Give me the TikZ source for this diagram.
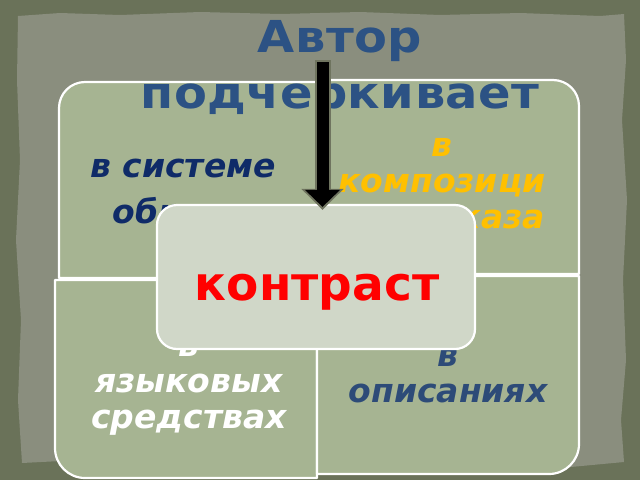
\documentclass[tikz,border=0pt]{standalone}
\usepackage{fontspec}
\setmainfont{DejaVu Sans}
\newfontfamily\titlefont[FakeStretch=1.09,LetterSpace=1]{DejaVu Sans}
\usetikzlibrary{arrows.meta}
\definecolor{bgdark}{HTML}{6A7259}
\definecolor{paper}{HTML}{8A8E7E}
\definecolor{quadfill}{HTML}{A6B492}
\definecolor{ctrfill}{HTML}{D0D7C8}
\definecolor{navy}{HTML}{0F2B68}
\definecolor{gold}{HTML}{FFC000}
\definecolor{slate}{HTML}{2D4B78}
\definecolor{titleblue}{HTML}{2C5284}
\definecolor{arrowgrey}{HTML}{6F745F}
\begin{document}
\begin{tikzpicture}[x=1pt,y=-1pt,
  quadbox/.style={fill=quadfill,draw=white,line width=2.2pt,line join=round},
  quadtext/.style={font=\fontsize{33}{36}\selectfont\bfseries\itshape,align=center,anchor=base,inner sep=0pt},
  ctrbox/.style={fill=ctrfill,draw=white,line width=2.2pt,rounded corners=20pt,minimum width=318pt,minimum height=144pt,inner sep=0pt},
  titletext/.style={font=\titlefont\bfseries\fontsize{44}{56}\selectfont,text=titleblue,align=center,anchor=base,inner sep=0pt},
  arrowhalo/.style={draw=arrowgrey,line width=16pt,-{Triangle[length=21pt,width=41pt]}},
  arrowcore/.style={draw=black,line width=12pt,-{Triangle[length=17pt,width=34pt]}}
]
\useasboundingbox (0,0) rectangle (640,480);
\fill[bgdark] (0,0) rectangle (640,480);
\fill[paper] (18,16) -- (60,13) -- (120,15) -- (200,12) -- (280,14) -- (360,12) -- (440,15) -- (520,13) -- (600,16) -- (624,14)
  -- (626,60) -- (622,120) -- (627,200) -- (623,280) -- (626,360) -- (621,420) -- (624,462)
  -- (560,468) -- (480,470) -- (400,466) -- (320,469) -- (240,463) -- (160,466) -- (80,460) -- (22,463)
  -- (18,400) -- (21,320) -- (16,240) -- (20,160) -- (17,80) -- cycle;
% quadrants
\draw[quadbox] (320,278) -- (59,278) -- (59,108) .. controls (59,93.6) and (70.6,82) .. (85,82) -- (320,82) -- cycle;
\draw[quadbox] (320,80) -- (553,80) .. controls (567.4,80) and (579,91.6) .. (579,106) -- (579,274) -- (320,274) -- cycle;
\draw[quadbox] (317,280) -- (55,280) -- (55,448) .. controls (55,464.6) and (68.4,478) .. (85,478) -- (317,478) -- cycle;
\draw[quadbox] (317,276) -- (579,276) -- (579,444) .. controls (579,460.6) and (565.6,474) .. (549,474) -- (317,474) -- cycle;
% quadrant texts (anchor base = last line)
\node[quadtext,text=navy] (tl) at (183,223) {в системе\\[10pt]\hspace*{13pt}образов};
\node[quadtext,text=gold] (tr) at (442,228) {в\\композици\\и рассказа};
\node[quadtext,text=white] (bl) at (189,428) {в\\языковых\\средствах};
\node[quadtext,text=slate] (br) at (448,402) {в\\описаниях};
% centre
\node[ctrbox] (ctr) at (316,277) {};
\node[font=\fontsize{47}{50}\selectfont\bfseries,text=red,anchor=base,inner sep=0pt] (kontrast) at (317,300) {контраст};
% title
\node[titletext] (title) at (340,108) {Автор\\подчеркивает};
% arrow
\coordinate (arrtop) at (322.5,62);
\draw[arrowhalo,shorten <=-2pt,shorten >=-6pt] (arrtop) -- (arrtop |- ctr.north);
\draw[arrowcore,shorten >=-3pt] (arrtop) -- (arrtop |- ctr.north);
\end{tikzpicture}
\end{document}
